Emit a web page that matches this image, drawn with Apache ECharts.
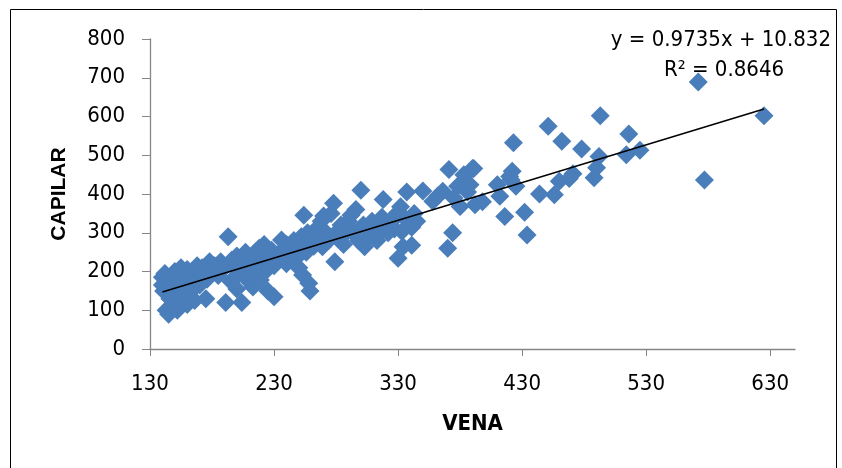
<!DOCTYPE html>
<html>
<head>
    <meta charset="UTF-8">
    <title>VENA vs CAPILAR</title>
    <script src="https://cdn.jsdelivr.net/npm/echarts@6/dist/echarts.min.js"></script>
    <style>
        html, body { margin: 0; padding: 0; background: #fff; }
    </style>
</head>
<body>
    <div id="main" style="width: 842px;height:468px;"></div>
    <script type="text/javascript">
        // datos
        var vena = [140,140,141,142,143,143,145,146,147,148,150,150,151,152,153,155,156,157,158,160,
            160,161,162,164,165,166,168,170,170,172,175,176,178,180,182,185,187,190,191,193,
            195,196,198,200,200,202,204,205,207,208,210,212,213,215,216,218,219,220,222,223,
            225,226,228,230,230,232,235,236,238,240,240,242,244,245,246,248,250,250,252,253,
            254,255,256,257,258,259,260,261,262,264,266,268,269,270,272,274,276,278,279,280,
            282,284,286,288,290,292,294,296,298,300,302,303,305,307,309,311,313,315,317,318,
            320,322,325,327,329,330,332,333,334,335,337,339,341,341,343,345,350,358,362,366,
            371,370,374,375,378,380,383,386,388,390,391,392,398,410,412,416,420,421,422,423,
            425,432,434,444,451,456,460,462,468,471,478,488,490,492,493,514,516,525,572,577,625];
        var capilar = [185,165,150,195,175,100,90,130,160,185,200,120,145,100,175,210,160,130,190,115,
            205,175,145,200,185,125,215,165,195,210,130,180,225,200,215,190,225,210,120,290,
            175,230,215,155,240,195,120,225,250,180,210,235,160,250,190,260,178,225,270,200,
            150,240,255,135,215,230,250,281,245,270,220,230,260,247,280,235,265,210,290,191,
            345,275,250,300,170,150,285,298,265,310,290,330,264,343,300,280,350,376,225,300,
            285,320,270,299,330,345,300,360,280,410,320,264,307,290,330,310,280,299,340,386,
            320,300,330,310,350,234,367,303,264,340,405,320,314,268,350,330,408,381,395,407,
            463,260,300,390,420,368,450,405,424,466,466,372,380,424,394,342,445,437,459,532,
            420,353,294,400,575,398,433,536,440,452,516,442,468,497,602,501,555,513,689,436,602];
        var xTicks = [130, 230, 330, 430, 530, 630];
        var yTicks = [0, 100, 200, 300, 400, 500, 600, 700, 800];
        var slope = 0.9735;
        var intercept = 10.832;
        var r2 = 0.8646;

        var points = vena.map(function (v, i) { return [v, capilar[i]]; });
        var xMin = Math.min.apply(null, vena);
        var xMax = Math.max.apply(null, vena);
        var trend = [[xMin, slope * xMin + intercept], [xMax, slope * xMax + intercept]];

        var myChart = echarts.init(document.getElementById('main'));
        var axisColor = '#868686';
        var labelFont = "'DejaVu Sans Condensed', 'Liberation Sans Narrow', 'Noto Sans', sans-serif";

        myChart.setOption({
            animation: false,
            grid: { left: 150, right: 47, top: 39, bottom: 119 },
            graphic: [
                { type: 'rect', shape: { x: 10.5, y: 9.5, width: 826, height: 470 },
                  style: { fill: 'none', stroke: '#000', lineWidth: 1 }, silent: true },
                { type: 'text', right: 11, top: 29,
                  style: { text: 'y = ' + slope + 'x + ' + intercept, font: "22px " + labelFont, fill: '#000' } },
                { type: 'text', left: 664, top: 59,
                  style: { text: 'R\u00b2 = ' + r2, font: "22px " + labelFont, fill: '#000' } }
            ],
            xAxis: {
                type: 'value', min: 130, max: 650, interval: 100,
                name: 'VENA', nameLocation: 'middle', nameGap: 64,
                nameTextStyle: { fontFamily: labelFont, fontWeight: 'bold', fontSize: 22, color: '#000' },
                axisLine: { lineStyle: { color: axisColor, width: 1.3 } },
                axisTick: { show: true, length: 7, lineStyle: { color: axisColor }, customValues: xTicks },
                axisLabel: { customValues: xTicks, fontFamily: labelFont, fontSize: 22, color: '#000', margin: 24 },
                splitLine: { show: false }
            },
            yAxis: {
                type: 'value', min: 0, max: 800, interval: 100,
                name: 'CAPILAR', nameLocation: 'middle', nameGap: 80, nameRotate: 90,
                nameTextStyle: { fontFamily: 'Liberation Sans, Arial, sans-serif', fontWeight: 'bold', fontSize: 21, color: '#000' },
                axisLine: { show: true, lineStyle: { color: axisColor, width: 1.3 } },
                axisTick: { show: true, length: 8, lineStyle: { color: axisColor }, customValues: yTicks },
                axisLabel: { customValues: yTicks, fontFamily: labelFont, fontSize: 22, color: '#000', margin: 25 },
                splitLine: { show: false }
            },
            series: [
                {
                    type: 'scatter',
                    data: points,
                    symbol: 'diamond',
                    symbolSize: 19,
                    itemStyle: { color: '#4A7EBB', opacity: 1 }
                },
                {
                    type: 'line',
                    data: trend,
                    symbol: 'none',
                    lineStyle: { color: '#000', width: 1.5 },
                    z: 5
                }
            ]
        });
    </script>
</body>
</html>
